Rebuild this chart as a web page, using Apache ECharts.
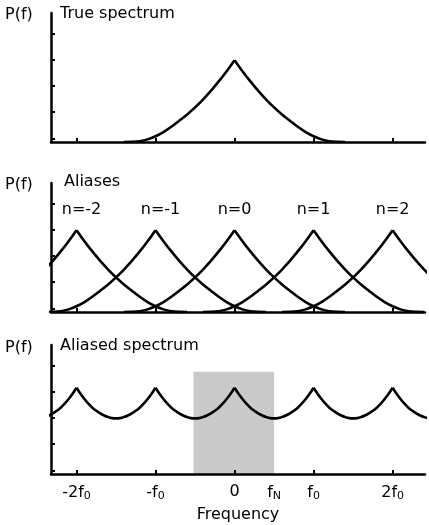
<!DOCTYPE html>
<html lang="en">
<head>
<meta charset="utf-8">
<title>Aliasing</title>
<script src="https://cdn.jsdelivr.net/npm/echarts@6/dist/echarts.min.js"></script>
<style>
html, body { margin: 0; padding: 0; background: #fff; }
#main { width: 429px; height: 525px; }
</style>
</head>
<body>
<div id="main"></div>
<script type="text/javascript">
// x in units of f0, y in tick units
var offsets = [0, 0.1, 0.2, 0.3, 0.4, 0.5, 0.6, 0.7, 0.8, 0.9, 1.0, 1.1, 1.2, 1.3, 1.4];
var trueHalf = [3.12, 2.70, 2.31, 1.95, 1.62, 1.32, 1.05, 0.81, 0.58, 0.38, 0.22, 0.10, 0.03, 0.005, 0];

var aliasCenters = [-2, -1, 0, 1, 2];
var aliasNames = ['n=-2', 'n=-1', 'n=0', 'n=1', 'n=2'];
var aliasNameY = 3.89;

var aliasedOffsets = [0, 0.05, 0.1, 0.15, 0.2, 0.25, 0.3, 0.35, 0.4, 0.45, 0.5];
var aliasedHalf = [3.29, 3.06, 2.86, 2.68, 2.53, 2.41, 2.31, 2.23, 2.17, 2.13, 2.12];
var aliasedPeaks = [-3, -2, -1, 0, 1, 2, 3];

var nyquistBand = [-0.52, 0.5];
var bandTop = 3.9;

var xTicks = [-2, -1, 0, 1, 2];
var xLabelValues = [-2, -1, 0, 0.5, 1, 2];
var xLabelTexts = ['-2f{s|0}', '-f{s|0}', '0', 'f{s|N}', 'f{s|0}', '2f{s|0}'];
var yTicks = [0.14, 1.14, 2.14, 3.14, 4.14];

var panelTitles = ['True spectrum', 'Aliases', 'Aliased spectrum'];

var FONT = 'DejaVu Sans';

function half(center, sign, offs, vals) {
	var pts = [];
	for (var i = 0; i < offs.length; i++) {
		pts.push([center + sign * offs[i], vals[i]]);
	}
	return pts;
}

function curve(idx, data) {
	return {
		type: 'line',
		xAxisIndex: idx,
		yAxisIndex: idx,
		data: data,
		smooth: 0.4,
		symbol: 'none',
		silent: true,
		lineStyle: { color: '#000', width: 2.6 }
	};
}

var series = [];

// panel 1: true spectrum
series.push(curve(0, half(0, -1, offsets, trueHalf)));
series.push(curve(0, half(0, 1, offsets, trueHalf)));

// panel 2: aliases
for (var i = 0; i < aliasCenters.length; i++) {
	series.push(curve(1, half(aliasCenters[i], -1, offsets, trueHalf)));
	series.push(curve(1, half(aliasCenters[i], 1, offsets, trueHalf)));
}
series.push({
	type: 'scatter',
	xAxisIndex: 1,
	yAxisIndex: 1,
	symbolSize: 0,
	silent: true,
	data: aliasCenters.map(function (c, k) {
		return {
			value: [c, aliasNameY],
			name: aliasNames[k],
			// matplotlib centres the negative labels a little to the right
			label: { offset: [c < 0 ? 5 : 0, 0] }
		};
	}),
	label: {
		show: true,
		position: 'inside',
		formatter: '{b}',
		color: '#000',
		textBorderWidth: 0,
		opacity: 1,
		fontFamily: FONT,
		fontSize: 16
	}
});

// panel 3: shaded Nyquist band
series.push({
	type: 'line',
	xAxisIndex: 2,
	yAxisIndex: 2,
	data: [],
	silent: true,
	markArea: {
		silent: true,
		itemStyle: { color: '#cacaca' },
		data: [[{ coord: [nyquistBand[0], 0] }, { coord: [nyquistBand[1], bandTop] }]]
	}
});
// panel 3: aliased spectrum, one piece per peak-to-peak interval
for (var k = 0; k < aliasedPeaks.length - 1; k++) {
	var seg = half(aliasedPeaks[k], 1, aliasedOffsets, aliasedHalf);
	var back = half(aliasedPeaks[k + 1], -1, aliasedOffsets, aliasedHalf).reverse();
	series.push(curve(2, seg.concat(back.slice(1))));
}

var gridTops = [13, 183, 345];
var grids = [], xAxes = [], yAxes = [];
for (var g = 0; g < 3; g++) {
	grids.push({ left: 51, right: 4, top: gridTops[g], height: 129 });
	xAxes.push({
		gridIndex: g,
		type: 'value',
		min: -2.323,
		max: 2.41,
		z: 10,
		axisLine: { onZero: false, lineStyle: { color: '#000', width: 2.5 } },
		axisTick: { inside: true, length: 4, customValues: xTicks, lineStyle: { color: '#000', width: 2 } },
		axisLabel: { show: false },
		splitLine: { show: false }
	});
	yAxes.push({
		gridIndex: g,
		type: 'value',
		min: 0,
		max: 4.92,
		z: 10,
		axisLine: { show: true, onZero: false, lineStyle: { color: '#000', width: 2.5 } },
		axisTick: { show: true, inside: true, length: 4, customValues: yTicks, lineStyle: { color: '#000', width: 2 } },
		axisLabel: { show: false },
		splitLine: { show: false }
	});
}
xAxes[2].axisLabel = {
	show: true,
	customValues: xLabelValues,
	margin: 10,
	color: '#000',
	fontFamily: FONT,
	fontSize: 16,
	formatter: function (v) {
		var j = xLabelValues.indexOf(v);
		return j < 0 ? '' : xLabelTexts[j];
	},
	rich: {
		s: { fontSize: 11, fontFamily: FONT, color: '#000', verticalAlign: 'bottom', padding: [7, 0, 0, 0] }
	}
};
xAxes[2].name = 'Frequency';
xAxes[2].nameLocation = 'middle';
xAxes[2].nameGap = 33;
xAxes[2].nameTextStyle = { color: '#000', fontFamily: FONT, fontSize: 16 };

var pfY = [15, 185, 348];
var titleX = [60, 64, 60];
var titleY = [14, 182, 346];
var graphics = [];
for (var t = 0; t < 3; t++) {
	graphics.push({ type: 'text', x: 5, y: pfY[t], style: { text: 'P(f)', font: '16px "DejaVu Sans"', fill: '#000', verticalAlign: 'middle' } });
	graphics.push({ type: 'text', x: titleX[t], y: titleY[t], style: { text: panelTitles[t], font: '16px "DejaVu Sans"', fill: '#000', verticalAlign: 'middle' } });
}

var myChart = echarts.init(document.getElementById('main'));
option = {
	animation: false,
	backgroundColor: '#fff',
	grid: grids,
	xAxis: xAxes,
	yAxis: yAxes,
	graphic: graphics,
	series: series
};
if (option && typeof option === 'object') {
	myChart.setOption(option);
}
</script>
</body>
</html>
